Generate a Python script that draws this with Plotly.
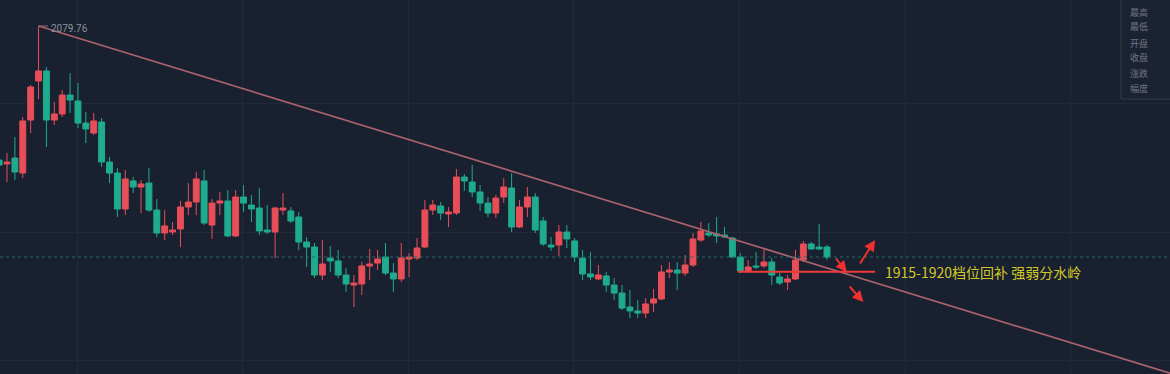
import plotly.graph_objects as go

# ---- data ----
idx = list(range(106))
open_ = [1991.3, 1988.7, 1992.6, 1982.7, 2017.7, 2043.5, 2050.1, 2017.7, 2021.7, 2034.2,
         2030.3, 2015.7, 2009.1, 2016.4, 1990.0, 1982.7, 1959.0, 1977.5, 1973.5, 1976.1,
         1958.3, 1943.1, 1943.8, 1945.8, 1960.3, 1963.6, 1977.5, 1948.4, 1962.9, 1964.3,
         1941.2, 1966.9, 1961.6, 1959.6, 1945.1, 1943.8, 1958.3, 1957.7, 1953.7, 1937.2,
         1933.9, 1915.4, 1926.6, 1924.7, 1915.4, 1908.8, 1909.5, 1921.4, 1923.3, 1927.3,
         1916.7, 1912.8, 1926.0, 1926.6, 1933.9, 1958.3, 1961.0, 1955.7, 1956.3, 1980.1,
         1976.8, 1970.2, 1962.9, 1956.3, 1966.9, 1972.8, 1947.1, 1960.3, 1966.9, 1951.1,
         1935.2, 1935.2, 1943.8, 1937.9, 1926.6, 1916.1, 1912.8, 1914.8, 1908.8, 1903.5,
         1894.3, 1891.7, 1890.3, 1896.9, 1899.6, 1917.4, 1918.7, 1916.7, 1922.0, 1938.5,
         1943.1, 1942.5, 1941.8, 1939.8, 1927.3, 1918.1, 1921.4, 1921.4, 1924.0, 1914.1,
         1910.8, 1912.8, 1925.3, 1935.9, 1933.9, 1933.9]
high = [2004.5, 1995.9, 2006.5, 2019.7, 2040.8, 2079.76, 2052.7, 2029.6, 2037.5, 2048.7,
        2042.1, 2023.0, 2022.3, 2019.0, 1993.3, 1986.0, 1984.7, 1980.1, 1978.1, 1986.0,
        1965.6, 1958.3, 1950.4, 1964.3, 1976.1, 1983.4, 1984.7, 1965.6, 1970.2, 1971.5,
        1971.5, 1974.8, 1968.2, 1972.8, 1961.6, 1960.3, 1969.5, 1960.3, 1957.0, 1940.5,
        1936.5, 1938.5, 1934.6, 1931.9, 1920.0, 1915.4, 1924.0, 1932.6, 1931.9, 1936.5,
        1923.3, 1936.5, 1929.9, 1939.8, 1964.9, 1964.9, 1963.6, 1960.3, 1985.4, 1982.1,
        1988.0, 1974.8, 1966.9, 1968.2, 1979.4, 1982.7, 1964.9, 1973.5, 1969.5, 1953.7,
        1940.5, 1948.4, 1948.4, 1939.8, 1931.9, 1930.6, 1922.0, 1917.4, 1913.4, 1908.8,
        1905.5, 1898.9, 1900.2, 1906.2, 1922.0, 1924.0, 1924.0, 1928.6, 1943.1, 1950.4,
        1949.7, 1953.7, 1947.1, 1940.5, 1929.9, 1925.3, 1930.6, 1931.9, 1926.6, 1916.7,
        1915.4, 1931.9, 1937.9, 1937.2, 1949.1, 1935.2]
low = [1976.1, 1976.8, 1978.1, 1979.4, 2009.1, 2031.6, 1999.9, 2014.4, 2019.7, 2022.3,
       2012.4, 2002.5, 2007.8, 1986.7, 1976.1, 1953.7, 1955.0, 1969.5, 1956.3, 1957.0,
       1940.5, 1938.5, 1941.8, 1933.9, 1955.0, 1955.0, 1948.4, 1939.2, 1955.0, 1940.5,
       1940.5, 1957.0, 1950.4, 1941.8, 1942.5, 1926.6, 1955.0, 1949.7, 1931.9, 1920.7,
       1913.4, 1912.1, 1917.4, 1913.4, 1904.2, 1894.3, 1902.2, 1912.1, 1918.7, 1915.4,
       1904.2, 1910.8, 1914.1, 1925.3, 1933.2, 1955.0, 1951.7, 1947.1, 1955.0, 1970.9,
       1966.9, 1957.7, 1953.7, 1953.0, 1962.9, 1943.8, 1946.4, 1953.7, 1943.1, 1934.6,
       1931.3, 1928.0, 1933.2, 1924.0, 1912.1, 1912.1, 1912.1, 1904.2, 1898.9, 1892.3,
       1887.0, 1887.0, 1887.0, 1891.0, 1898.9, 1913.4, 1905.5, 1914.8, 1920.7, 1937.2,
       1940.5, 1936.5, 1939.8, 1926.6, 1916.7, 1917.4, 1919.4, 1920.0, 1908.8, 1908.8,
       1905.5, 1912.1, 1924.0, 1931.9, 1931.9, 1925.3]
close = [1988.0, 1990.0, 1983.4, 2017.1, 2039.5, 2050.1, 2017.7, 2021.7, 2034.2, 2030.9,
         2015.7, 2011.8, 2017.1, 1990.0, 1982.7, 1959.0, 1978.8, 1973.5, 1975.5, 1958.3,
         1943.1, 1947.8, 1945.1, 1960.3, 1963.6, 1978.8, 1949.7, 1962.9, 1964.3, 1941.2,
         1966.9, 1962.9, 1959.0, 1944.5, 1943.8, 1959.6, 1959.6, 1951.1, 1937.2, 1933.9,
         1915.4, 1922.7, 1924.7, 1915.4, 1909.5, 1910.1, 1921.4, 1922.7, 1926.0, 1916.7,
         1912.8, 1926.6, 1927.3, 1933.2, 1958.3, 1961.6, 1956.3, 1957.0, 1980.1, 1977.5,
         1970.2, 1962.9, 1956.3, 1966.2, 1973.5, 1947.1, 1960.3, 1966.9, 1945.1, 1935.9,
         1933.9, 1943.8, 1939.2, 1927.3, 1916.1, 1914.1, 1915.4, 1908.8, 1903.5, 1893.6,
         1891.7, 1890.3, 1896.3, 1899.6, 1917.4, 1918.7, 1916.7, 1922.0, 1939.2, 1944.5,
         1941.8, 1941.2, 1940.5, 1927.3, 1918.1, 1920.7, 1920.7, 1924.0, 1915.4, 1910.1,
         1912.8, 1925.3, 1935.9, 1932.6, 1932.6, 1927.3]

peak_label = "2079.76"
trend_start = (5, 2079.76)
trend_end = (148.5, 1850.6)
support_level = 1917.5
support_span = (93.7, 111.1)
note_text = "1915-1920档位回补 强弱分水岭"
legend_labels = ["最高", "最低", "开盘", "收盘", "涨跌", "幅度"]

# ---- styling ----
BG = "#192030"
UP = "#e84e57"
DOWN = "#1fab8e"
GRID = "#222a39"

fig = go.Figure()
fig.add_trace(go.Candlestick(
    x=idx, open=open_, high=high, low=low, close=close,
    increasing=dict(line=dict(color=UP, width=1), fillcolor=UP),
    decreasing=dict(line=dict(color=DOWN, width=1), fillcolor=DOWN),
    whiskerwidth=0, hoverinfo="skip", showlegend=False,
))

# trend line from the peak
fig.add_trace(go.Scatter(
    x=[trend_start[0], trend_end[0]], y=[trend_start[1], trend_end[1]],
    mode="lines", line=dict(color="#a8636b", width=1.7),
    hoverinfo="skip", showlegend=False,
))

# current price dotted line (last close)
fig.add_shape(type="line", xref="paper", x0=0, x1=1, y0=close[-1], y1=close[-1],
              line=dict(color="#216d66", width=1, dash="dot"))

# peak marker stub + label
fig.add_shape(type="line", x0=trend_start[0], x1=trend_start[0] + 1.2,
              y0=trend_start[1], y1=trend_start[1],
              line=dict(color="#8f6d74", width=1))
fig.add_annotation(x=trend_start[0] + 1.3, y=trend_start[1] - 1.8, text=peak_label,
                   showarrow=False, xanchor="left", yanchor="middle",
                   font=dict(family="Roboto, Arial", size=10, color="#8d929c"))

# support line
fig.add_shape(type="line", x0=support_span[0], x1=support_span[1],
              y0=support_level, y1=support_level,
              line=dict(color="#f03a3a", width=2))
fig.add_annotation(x=support_span[1] + 1.0, y=support_level, text=note_text,
                   showarrow=False, xanchor="left", yanchor="middle",
                   font=dict(family="Noto Sans CJK SC", size=14, color="#d2c928"))

# red arrows
for (hx, hy, ax, ay) in [(107.5, 1917.4, -12, -15), (111.1, 1938.5, -16, 25), (109.6, 1897.6, -15, -17)]:
    fig.add_annotation(x=hx, y=hy, ax=ax, ay=ay, axref="pixel", ayref="pixel",
                       showarrow=True, arrowhead=2, arrowsize=1.1, arrowwidth=2,
                       arrowcolor="#f0302e", text="")

# OHLC info box (top right)
fig.add_shape(type="rect", xref="paper", yref="paper",
              x0=1121 / 1170, x1=1.01, y0=1 - 99 / 374, y1=1.02,
              line=dict(color="#343b4a", width=1), fillcolor="#1b2232", layer="above")
for lab, yc in zip(legend_labels, [12, 27, 43, 58, 73, 88]):
    fig.add_annotation(xref="paper", yref="paper", x=1128 / 1170, y=1 - yc / 374,
                       text=lab, showarrow=False, xanchor="left", yanchor="middle",
                       font=dict(family="Noto Sans CJK SC", size=9, color="#707686"))

fig.update_layout(
    width=1170, height=374,
    margin=dict(l=0, r=0, t=0, b=0),
    paper_bgcolor=BG, plot_bgcolor=BG,
    boxgap=0.15, boxgroupgap=0.12,
    xaxis=dict(range=[0.112, 148.5], showticklabels=False, rangeslider=dict(visible=False),
               tickvals=[9.9, 30.9, 51.9, 72.9, 93.9, 114.9, 135.9],
               showgrid=True, gridcolor=GRID, zeroline=False, showline=False, ticks=""),
    yaxis=dict(range=[1850.08, 2096.92], showticklabels=False,
               tickvals=[1859.3, 1943.8, 2028.3],
               showgrid=True, gridcolor=GRID, zeroline=False, showline=False, ticks=""),
    hovermode=False,
)

fig.write_html("out.html",
               config={"displayModeBar": False},
               post_script="document.body.style.margin='0';document.body.style.overflow='hidden';document.body.style.background='#192030';")
